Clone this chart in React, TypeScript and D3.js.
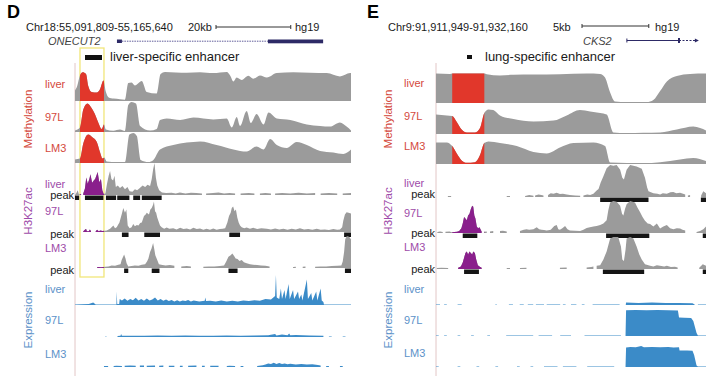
import React from "react";
import * as d3 from "d3";

type P = [number, number] | null;

// ---------- Panel D (Chr18:55,091,809-55,165,640), positions = % of window ----------
const dSpanKb = 73.831;
const dHighlight = [1.8, 10.5];
const dGene = { start: 15.2, boxEnd: 17.0, exonStart: 69.9, end: 89.9 };

const dMethLiver: P[] = [[0,0.35],[0.8,0.5],[1.8,0.85],[2.8,0.96],[4.0,0.9],[4.8,0.5],[6.0,0.3],[7.9,0.28],[9.1,0.4],[10.3,0.68],[11.2,0.3],[12.2,0.12],[13.9,0.08],[16.3,0.06],[18.1,0.04],[19.3,0.6],[20.5,0.62],[21.7,0.52],[24.2,0.67],[26.0,0.3],[29.6,0.25],[31.0,0.9],[32.6,0.97],[40.5,0.94],[45.3,0.96],[50.1,0.93],[55.0,0.97],[56.2,0.85],[57.4,0.65],[58.6,0.78],[60.4,0.7],[62.8,0.84],[64.6,0.74],[67.0,0.85],[69.5,0.78],[73.1,0.93],[79.1,0.96],[85.2,0.94],[91.2,0.93],[96.0,0.82],[99.7,0.93],[100,0.93]];
const dMeth97L: P[] = [[0,0.05],[1.8,0.15],[3.0,0.75],[4.5,0.95],[6.0,0.8],[7.2,0.6],[8.5,0.3],[9.7,0.1],[10.5,0.25],[11.2,0.08],[13.9,0.04],[16.3,0.08],[18.1,0.03],[19.3,0.9],[20.5,1.0],[22.1,0.95],[23.6,0.2],[27.2,0.05],[29.6,0.1],[30.8,0.4],[33.2,0.45],[38.1,0.4],[42.9,0.48],[50.1,0.42],[55.0,0.45],[56.8,0.15],[58.6,0.5],[59.8,0.2],[62.2,0.7],[63.7,0.3],[65.8,0.6],[68.3,0.25],[70.1,0.65],[73.1,0.45],[78.0,0.4],[84.0,0.25],[88.8,0.2],[92.4,0.18],[96.0,0.32],[98.4,0.18],[100,0.05]];
const dMethLM3: P[] = [[0,0.12],[1.8,0.15],[3.0,0.65],[4.8,0.95],[6.4,0.85],[7.9,0.7],[9.1,0.35],[10.0,0.15],[10.6,0.18],[11.5,0.05],[15.1,0.03],[18.1,0.03],[19.7,0.95],[21.1,1.0],[22.4,0.9],[23.8,0.1],[26.6,0.03],[28.4,0.1],[30.8,0.45],[35.6,0.6],[40.5,0.68],[45.3,0.72],[51.3,0.6],[57.4,0.45],[62.2,0.38],[65.8,0.55],[68.3,0.45],[70.7,0.8],[73.1,0.6],[76.7,0.5],[80.3,0.7],[84.0,0.6],[88.8,0.4],[93.6,0.35],[97.2,0.3],[100,0.45]];

const dAcLiver: P[] = [[0,0],[0.5,0.06],[1,0.15],[1.4,0.02],[2.2,0.03],null,[3,0.05],[3.6,0.2],[4.1,0.55],[4.6,0.35],[5.2,0.5],[5.6,0.65],[6.2,0.38],[6.8,0.45],[7.3,0.5],[7.8,0.62],[8.2,0.72],[8.8,0.4],[9.4,0.5],[9.9,0.15],[10.4,0.03],[11,0.05],[11.6,0.35],[12.2,0.6],[12.7,0.75],[13.2,0.5],[13.8,0.45],[14.3,0.6],[14.8,0.25],[15.5,0.3],[16.3,0.22],[17.2,0.28],[18.1,0.18],[19,0.25],[19.8,0.12],[20.8,0.1],[21.7,0.18],[22.5,0.15],[23.5,0.22],[24.5,0.3],[25.4,0.25],[26.3,0.32],[27.2,0.28],[27.8,0.5],[28.3,0.8],[28.8,1.0],[29.3,0.55],[29.8,0.3],[30.5,0.15],[31.5,0.08],[33,0.06],[35,0.07],[36.5,0.05],[38,0.08],[40,0.05],[42,0.07],[44,0.06],[46,0.05],null,[47.5,0.05],[50,0.06],[52,0.08],[54,0.05],[56,0.06],[58,0.05],null,[60,0.05],[63,0.06],[65,0.05],null,[67,0.05],[69,0.06],[71,0.05],null,[72.5,0.05],[75,0.06],[78,0.05],[81,0.07],[84,0.05],[87,0.06],null,[89,0.05],[92,0.06],[95,0.05],null,[97,0.05],[100,0.06]];
const dAc97L: P[] = [[3,0.02],[4,0.1],[4.3,0.02],[5,0.02],[5.4,0.08],[5.8,0.02],null,[7.5,0.02],[8,0.07],[8.6,0.02],[9.2,0.05],[10,0.03],[11.5,0.05],[12.7,0.1],[13.9,0.2],[14.5,0.12],[15.1,0.15],[16.1,0.3],[16.9,0.55],[17.5,0.75],[18.1,0.6],[18.6,0.7],[19.1,0.2],[19.8,0.12],[20.5,0.15],[21.1,0.25],[21.7,0.18],[22.4,0.22],[23,0.2],[23.6,0.28],[24.2,0.3],[25,0.5],[25.6,0.55],[26,0.6],[26.8,0.55],[27.3,0.7],[27.8,0.75],[28.3,0.85],[28.6,0.95],[29,0.65],[29.4,0.6],[29.8,0.45],[30.2,0.35],[30.8,0.2],[31.4,0.15],[32.3,0.1],[33.2,0.14],[34.2,0.1],[35.6,0.12],[36.8,0.08],[38.1,0.13],[39.3,0.09],[40.5,0.11],[41.7,0.08],[42.9,0.13],[44.1,0.09],[45.3,0.11],[46.5,0.07],[47.7,0.1],[48.9,0.07],[50.1,0.11],[51.3,0.07],[52.5,0.09],[53.5,0.1],[54.4,0.12],[55.2,0.3],[55.8,0.5],[56.4,0.6],[56.8,0.75],[57.3,0.8],[57.8,0.65],[58.3,0.7],[58.8,0.45],[59.3,0.3],[59.8,0.2],[60.4,0.15],[61.3,0.12],[62.2,0.14],[63.4,0.1],[64.6,0.13],[66,0.09],[67.5,0.12],[69.5,0.1],[71,0.08],[72.5,0.11],[74,0.08],[75.5,0.1],[77,0.07],[78.5,0.1],[80,0.08],[81.5,0.12],[83,0.08],[84.5,0.09],[86,0.07],[87.6,0.1],[89,0.07],[90.5,0.08],[92,0.06],[93.6,0.09],[95,0.07],[96,0.08],[96.8,0.15],[97.2,0.35],[97.8,0.55],[98.4,0.62],[99.1,0.6],[100,0.58]];
const dAcLM3: P[] = [[8,0.02],[8.6,0.03],[9.4,0.02],[10.2,0.03],[11,0.04],[12.1,0.05],[13.3,0.08],[14.5,0.07],[15.7,0.1],[16.5,0.12],[16.9,0.25],[17.8,0.42],[18.3,0.3],[18.7,0.15],[19.3,0.05],[20.5,0.06],[21.7,0.08],[23,0.07],[24.2,0.1],[25.4,0.12],[26.1,0.2],[26.6,0.3],[27.2,0.5],[27.7,0.6],[28.3,0.78],[28.7,0.6],[29.1,0.4],[29.8,0.25],[30.4,0.12],[31.2,0.1],[32.8,0.08],[34.4,0.09],[36,0.07],null,[38.5,0.05],[40.5,0.06],[42,0.05],null,[46.5,0.04],[48.5,0.05],[50.5,0.05],[52.5,0.06],[54,0.08],[54.8,0.2],[55.6,0.35],[56.4,0.4],[57,0.45],[57.6,0.38],[58.2,0.3],[58.9,0.28],[59.6,0.22],[60.4,0.25],[61.2,0.18],[62.2,0.15],[63.4,0.12],[64.6,0.1],[66,0.09],[67.4,0.08],[69,0.07],[70.5,0.05],null,[79,0.03],[80,0.04],null,[82.5,0.04],[83.5,0.05],null,[87,0.04],[89,0.05],[91,0.05],[93,0.06],[95,0.07],[96.5,0.08],[97,0.2],[97.5,0.5],[97.9,0.9],[98.5,1.0],[99.3,0.98],[100,0.9]];

const dPeaksLiver = [[0,1.5],[3.6,10.3],[11.2,14.9],[15.3,19.7],[21.1,23.6],[24.2,31.4]];
const dPeaks97L = [[17.0,19.4],[25.1,30.8],[55.9,59.8],[97.5,100]];
const dPeaksLM3 = [[17.8,19.3],[27.8,30.6],[55.6,58.9],[97.8,100]];

const dExpLiver: P[] = [[0,0.02],[5,0.03],[6.6,0.08],[7.5,0.02],[14,0.02],[15.0,0.02],[15.1,0.45],[15.3,0.03],[16.0,0.03],[16.2,0.2],[17,0.15],[18,0.22],[19,0.14],[20,0.2],[21,0.16],[22,0.24],[23,0.15],[24,0.2],[25,0.14],[26,0.22],[27,0.15],[28,0.18],[29,0.25],[30,0.15],[31,0.2],[32,0.14],[33,0.18],[34,0.13],[35,0.17],[36,0.12],[37,0.16],[38,0.12],[39,0.15],[40,0.13],[41,0.17],[42,0.12],[43,0.15],[45,0.12],[47,0.14],[47.2,0.25],[47.5,0.13],[49,0.14],[51,0.12],[53,0.15],[55,0.12],[57,0.14],[59,0.12],[61,0.15],[63,0.13],[65,0.16],[67,0.14],[69,0.2],[71,0.18],[72.5,0.3],[72.8,1.0],[73.1,0.25],[74,0.2],[74.6,0.55],[75,0.2],[75.9,0.5],[76.3,0.2],[77.4,0.7],[77.8,0.2],[79,0.5],[79.4,0.2],[80.8,0.45],[81.2,0.2],[82,0.35],[82.4,0.15],[84,0.85],[84.4,0.2],[85.6,0.4],[86,0.15],[87.4,0.45],[87.8,0.15],[89,0.55],[89.4,0.15],[90,0.1],[90.2,0.02],[100,0.02]];
const dExp97L: P[] = [[11,0.02],[11.4,0.02],null,[15.4,0.03],[16.5,0.04],[16.7,0.1],[17,0.04],[25,0.04],[30,0.05],[35,0.04],[40,0.05],[45,0.04],[50,0.04],[55,0.05],[60,0.04],[65,0.05],[70,0.06],[72.5,0.1],[73,0.05],[75,0.08],[77,0.06],[77.6,0.12],[78,0.06],[80,0.07],[85,0.05],[90,0.04],null,[92,0.02],[93,0.02],null,[97,0.02],[98,0.02]];
const dExpLM3: P[] = [[10.5,0.03],[12,0.03],null,[14,0.03],[15,0.04],[17,0.03],null,[18,0.04],[20,0.05],[22,0.04],null,[23.5,0.05],[25,0.05],null,[26,0.04],[29,0.05],null,[30.5,0.04],[32,0.05],null,[34,0.04],[36,0.04],null,[38,0.04],[39,0.04],null,[41,0.04],[44,0.05],null,[46,0.04],[47,0.04],null,[49,0.04],[52,0.04],null,[55,0.03],[56,0.04],[58,0.03],null,[60,0.03],[61,0.03],null,[66,0.03],[68,0.06],[69,0.08],[70,0.12],[71,0.1],[72,0.14],[73,0.1],[74,0.13],[75,0.1],[76,0.12],[77,0.09],[78,0.11],[80,0.08],[82,0.1],[84,0.08],[86,0.09],[88,0.07],[89,0.05],null,[91,0.03],[92,0.03],null,[96,0.03],[97,0.03]];

// ---------- Panel E (Chr9:91,911,949-91,932,160) ----------
const eSpanKb = 20.211;
const eHighlight = [6.0, 17.9];
const eGene = { start: 70.7, tick: 90.0, end: 97.0 };

const eMethLiver: P[] = [[0,0.98],[5.2,0.97],[6.0,0.98],[12,0.98],[17.9,0.98],[18.8,0.96],[23.7,0.92],[28.7,0.94],[36.1,0.95],[45.9,0.96],[55.8,0.98],[60.8,0.97],[62.6,0.85],[64.5,0.35],[66.3,0.05],[70.6,0.03],[78.1,0.03],[80.5,0.1],[83.0,0.4],[85.5,0.72],[89.2,0.9],[94.1,0.97],[100,0.98]];
const eMeth97L: P[] = [[0,0.65],[4.0,0.62],[6.0,0.6],[7.7,0.4],[9.5,0.15],[11.4,0.05],[14.4,0.05],[16.3,0.2],[17.9,0.7],[19.4,0.82],[21.2,0.8],[23.7,0.62],[28.7,0.5],[36.1,0.42],[43.5,0.45],[48.4,0.62],[53.3,0.8],[57.1,0.75],[60.8,0.7],[63.2,0.65],[65.7,0.05],[70.6,0.03],[76.8,0.04],[83.0,0.05],[89.2,0.15],[95.3,0.25],[97.8,0.2],[100,0.12]];
const eMethLM3: P[] = [[0,0.72],[4.0,0.72],[6.0,0.6],[7.7,0.35],[9.5,0.12],[11.4,0.04],[14.4,0.06],[16.3,0.3],[17.9,0.7],[19.4,0.75],[23.7,0.7],[29.9,0.6],[36.1,0.4],[41.0,0.35],[45.9,0.55],[50.9,0.7],[58.3,0.72],[62.6,0.6],[64.5,0.05],[76.8,0.03],[83.0,0.06],[90.4,0.15],[95.3,0.2],[100,0.1]];

const eAcLiver: P[] = [[4.4,0.03],[5.6,0.03],null,[26.2,0.03],[27.4,0.03],null,[33,0.03],[34.5,0.06],[36.1,0.04],null,[36.7,0.05],[38,0.08],[39,0.06],[39.8,0.05],null,[41.5,0.06],[42.5,0.12],[43.5,0.1],[44.7,0.13],[45.9,0.09],[47,0.1],[48.4,0.08],[49.6,0.06],[51.5,0.05],[53.4,0.04],null,[54.6,0.05],[56,0.08],[57.1,0.06],[58.3,0.1],[59.5,0.2],[60.2,0.25],[61,0.45],[62,0.65],[63.2,0.9],[64.5,1.0],[65.7,0.98],[66.9,1.0],[68.2,0.85],[69,0.6],[69.6,0.55],[70.6,0.85],[71.9,1.0],[73.1,0.98],[74.3,0.95],[76.2,0.88],[77.4,0.6],[78.2,0.3],[78.7,0.18],[80.5,0.12],[82,0.1],[83,0.08],[84,0.12],[85.5,0.1],[86.8,0.15],[87.9,0.16],[89,0.12],[90.4,0.13],[91.5,0.1],[92.3,0.08],null,[93.3,0.05],[94.1,0.06],null,[98.2,0.05],[99,0.18],[100,0.12]];
const eAc97L: P[] = [[0.5,0.03],[1.5,0.05],[2.5,0.03],null,[3.5,0.04],[5,0.05],[5.8,0.02],[6.8,0.03],[7.8,0.04],[8.6,0.06],[9.4,0.15],[9.9,0.3],[10.4,0.5],[10.9,0.45],[11.4,0.4],[11.9,0.55],[12.4,0.6],[12.9,0.75],[13.4,0.85],[13.8,0.82],[14.2,0.55],[14.6,0.45],[15.1,0.2],[15.6,0.15],[16.1,0.18],[16.9,0.05],null,[17.8,0.04],[18.8,0.05],null,[20,0.05],[21.2,0.06],null,[23.7,0.06],[24.8,0.07],[26.2,0.05],null,[31.1,0.06],[32.5,0.1],[33.5,0.12],[34.5,0.1],[36.1,0.12],[37.3,0.18],[38.2,0.12],[39.1,0.1],[40,0.09],[41,0.08],[42.5,0.1],[43.8,0.22],[44.7,0.25],[45.3,0.12],[45.9,0.1],[46.8,0.15],[47.8,0.22],[48.7,0.12],[49.6,0.08],[51.5,0.07],[53.4,0.06],[54.6,0.1],[55.8,0.16],[57,0.18],[58.3,0.2],[59.5,0.22],[60.8,0.25],[62,0.3],[63.2,0.4],[63.8,0.7],[64.5,0.95],[65.7,1.0],[66.9,0.98],[68.2,0.85],[68.9,0.6],[69.4,0.55],[70,0.75],[70.6,0.9],[71.9,1.0],[73.7,0.95],[74.6,0.8],[75.6,0.65],[76.5,0.5],[77.4,0.38],[78.4,0.3],[79.3,0.28],[80.5,0.2],[81.8,0.3],[82.4,0.22],[83,0.14],[84.2,0.2],[85.5,0.25],[86.7,0.15],[87.9,0.12],[89.2,0.15],[90.4,0.14],[91.3,0.1],[92.3,0.08],null,[96.5,0.03],[97.8,0.06],[99,0.12],[100,0.2]];
const eAcLM3: P[] = [[0.3,0.03],[2,0.04],[4.5,0.03],null,[8.2,0.04],[9.2,0.08],[9.9,0.2],[10.4,0.35],[10.9,0.5],[11.4,0.55],[11.9,0.45],[12.4,0.55],[12.9,0.5],[13.4,0.45],[13.8,0.55],[14.4,0.5],[14.9,0.3],[15.5,0.12],[16.1,0.08],[16.9,0.04],null,[26.2,0.03],[27.4,0.03],null,[31.1,0.03],[33.5,0.04],null,[45.9,0.04],[48.4,0.05],null,[55.8,0.05],[57.5,0.06],[58.3,0.08],null,[59.5,0.1],[60.8,0.12],[62,0.3],[63.2,0.55],[64,0.8],[64.5,0.95],[65.7,1.0],[67.5,1.0],[68.5,0.7],[69,0.3],[69.6,0.25],[70.2,0.6],[70.6,0.95],[71.9,1.0],[73.1,0.95],[74.3,0.7],[75.3,0.45],[76.2,0.3],[77.4,0.15],[79.3,0.1],[80.5,0.08],[81.8,0.12],[83.5,0.09],[84.5,0.08],[85.5,0.1],[87,0.06],[88.5,0.07],[89.5,0.05],null,[97.5,0.04],[98.8,0.15],[100,0.1]];

const ePeaksLiver = [[60.8,78.7],[98.1,100]];
const ePeaks97L = [[9.9,15.3],[63.0,79.0],[98.8,100]];
const ePeaksLM3 = [[10.4,15.9],[61.8,77.1],[98.8,100]];

const eExpLiver: P[] = [[0,0.02],[1.5,0.02],null,[3,0.02],[4,0.02],null,[8,0.02],[9.5,0.02],null,[22,0.02],[22.5,0.02],null,[27,0.02],[28.5,0.02],null,[31,0.02],[32.5,0.02],null,[34,0.02],[36,0.02],null,[37,0.02],[40,0.02],null,[41,0.02],[46,0.02],null,[47,0.02],[48,0.02],null,[50,0.02],[52,0.02],null,[54,0.02],[55,0.02],null,[58,0.02],[60,0.02],[64,0.02],[68,0.02],null,[70.3,0.02],[70.4,0.08],[75,0.07],[80,0.08],[85,0.07],[90,0.07],[95,0.06],[95.8,0.02],null,[97,0.02],[100,0.02]];
const eExp97L: P[] = [[0,0.02],[1,0.02],null,[3,0.02],[4,0.02],null,[8,0.02],[9,0.02],null,[13,0.02],[14,0.02],null,[19,0.02],[20,0.02],null,[26,0.02],[36,0.02],null,[38,0.02],[43,0.02],null,[46,0.02],[50,0.02],null,[55,0.02],[68.5,0.02],null,[70.2,0.02],[70.4,0.86],[74,0.87],[78,0.86],[82,0.87],[86,0.86],[89.6,0.85],[90.0,0.62],[92,0.61],[94.5,0.6],[95.3,0.5],[96.5,0.1],[97,0.02],[100,0.02]];
const eExpLM3: P[] = [[0,0.02],[1,0.02],null,[8,0.02],[9,0.02],null,[15,0.02],[16,0.02],null,[22,0.02],[23,0.02],null,[30,0.02],[31,0.02],null,[35,0.02],[36,0.02],null,[40,0.02],[45,0.02],null,[47,0.02],[52,0.02],null,[56,0.02],[66,0.02],null,[70.2,0.02],[70.4,0.65],[72,0.67],[74,0.66],[76,0.7],[77,0.66],[80,0.67],[83,0.66],[86,0.67],[88,0.65],[90,0.66],[90.2,0.55],[93,0.55],[95,0.54],[95.6,0.4],[96.5,0.05],[97,0.02],[100,0.02]];

const sampleNames = ["liver", "97L", "LM3"];

// ---------- styling ----------
const FONT = "'Liberation Sans', Arial, Helvetica, sans-serif";
const COL = {
  gray: "#9b9b9b", red: "#e1372b", purple: "#8a1f8c", blue: "#3b8bc8",
  methLab: "#d4493d", acLab: "#9e4ba9", expLab: "#5c92c9",
  yellow: "#f1e67a", axis: "#e2c6c6", gene: "#2d2a66",
};

type Panel = {
  id: string; letter: string; coord: string; x0: number; x1: number;
  labelX: number; rotX: number; hl: number[];
  meth: P[][]; ac: P[][]; exp: P[][]; peaks: number[][][];
  methBase: number[]; acBase: number[]; expBase: number[];
  methLab: number[]; acLab: number[]; peakLab: number[]; expLab: number[];
};

const panels: Panel[] = [
  { id: "D", letter: "D", coord: "Chr18:55,091,809-55,165,640", x0: 75, x1: 351, labelX: 45, rotX: 32, hl: dHighlight,
    meth: [dMethLiver, dMeth97L, dMethLM3], ac: [dAcLiver, dAc97L, dAcLM3], exp: [dExpLiver, dExp97L, dExpLM3],
    peaks: [dPeaksLiver, dPeaks97L, dPeaksLM3],
    methBase: [101, 132, 163], acBase: [195, 232, 268], expBase: [305, 337, 367],
    methLab: [88, 121, 152], acLab: [188, 215, 252], peakLab: [199, 238, 274], expLab: [293, 324, 358] },
  { id: "E", letter: "E", coord: "Chr9:91,911,949-91,932,160", x0: 436, x1: 706, labelX: 404, rotX: 392, hl: eHighlight,
    meth: [eMethLiver, eMeth97L, eMethLM3], ac: [eAcLiver, eAc97L, eAcLM3], exp: [eExpLiver, eExp97L, eExpLM3],
    peaks: [ePeaksLiver, ePeaks97L, ePeaksLM3],
    methBase: [103, 134, 164], acBase: [197, 233, 269], expBase: [305, 336, 367],
    methLab: [87, 120, 150], acLab: [187, 217, 251], peakLab: [198, 237, 273], expLab: [293, 324, 357] },
];

function Area({ data, x, base, h, fill, curve, clip }: any) {
  const gen = d3.area<P>()
    .defined((d) => d !== null)
    .x((d) => x(d![0]))
    .y0(base)
    .y1((d) => base - d![1] * h)
    .curve(curve);
  return <path d={gen(data) || ""} fill={fill} clipPath={clip ? `url(#${clip})` : undefined} />;
}

function PanelView({ p }: { p: Panel }) {
  const x = d3.scaleLinear().domain([0, 100]).range([p.x0, p.x1]);
  const hx0 = x(p.hl[0]);
  const hx1 = x(p.hl[1]);
  const clipId = `hl-${p.id}`;
  const txt = { fontFamily: FONT };
  return (
    <g>
      <defs>
        <clipPath id={clipId}><rect x={hx0} y={0} width={hx1 - hx0} height={376} /></clipPath>
      </defs>
      <line x1={p.x0} x2={p.x0} y1={63} y2={376} stroke={COL.axis} strokeWidth={1} />
      {p.meth.map((d, i) => (
        <g key={"m" + i}>
          <Area data={d} x={x} base={p.methBase[i]} h={30} fill={COL.gray} curve={d3.curveMonotoneX} />
          <Area data={d} x={x} base={p.methBase[i]} h={30} fill={COL.red} curve={d3.curveMonotoneX} clip={clipId} />
          <text x={p.labelX} y={p.methLab[i]} fontSize={11} fill={COL.methLab} style={txt}>{sampleNames[i]}</text>
        </g>
      ))}
      {p.ac.map((d, i) => (
        <g key={"a" + i}>
          <Area data={d} x={x} base={p.acBase[i]} h={32} fill={COL.gray} curve={d3.curveLinear} />
          <Area data={d} x={x} base={p.acBase[i]} h={32} fill={COL.purple} curve={d3.curveLinear} clip={clipId} />
          {p.peaks[i].map((pk, j) => (
            <rect key={j} x={x(pk[0])} y={p.acBase[i] + 0.5} width={x(pk[1]) - x(pk[0])} height={4.5} fill="#151515" />
          ))}
          <text x={p.labelX} y={p.acLab[i]} fontSize={11} fill={COL.acLab} style={txt}>{sampleNames[i]}</text>
          <text x={p.x0 - 1} y={p.peakLab[i]} fontSize={11} fill="#1a1a1a" textAnchor="end" style={txt}>peak</text>
        </g>
      ))}
      {p.exp.map((d, i) => (
        <g key={"e" + i}>
          <Area data={d} x={x} base={p.expBase[i]} h={30} fill={COL.blue} curve={d3.curveLinear} />
          <text x={p.labelX} y={p.expLab[i]} fontSize={11} fill={COL.expLab} style={txt}>{sampleNames[i]}</text>
        </g>
      ))}
      <text transform={`translate(${p.rotX},${119}) rotate(-90)`} textAnchor="middle" fontSize={11.5} fill={COL.methLab} style={txt}>Methylation</text>
      <text transform={`translate(${p.rotX},${211}) rotate(-90)`} textAnchor="middle" fontSize={11.5} fill={COL.acLab} style={txt}>H3K27ac</text>
      <text transform={`translate(${p.rotX},${320}) rotate(-90)`} textAnchor="middle" fontSize={11.5} fill={COL.expLab} style={txt}>Expression</text>
    </g>
  );
}

export default function App() {
  const pD = panels[0];
  const pE = panels[1];
  const xD = d3.scaleLinear().domain([0, 100]).range([pD.x0, pD.x1]);
  const xE = d3.scaleLinear().domain([0, 100]).range([pE.x0, pE.x1]);
  const kbD = d3.scaleLinear().domain([0, dSpanKb]).range([0, pD.x1 - pD.x0]);
  const kbE = d3.scaleLinear().domain([0, eSpanKb]).range([0, pE.x1 - pE.x0]);
  const txt = { fontFamily: FONT };
  const sbD0 = 216, sbD1 = 216 + kbD(20);
  const sbE0 = 582, sbE1 = 582 + kbE(5);
  return (
    <svg width={720} height={376} style={{ position: "absolute", left: 0, top: 0, background: "#fff" }}>
      <rect width={720} height={376} fill="#fff" />
      {/* Panel D header */}
      <text x={7} y={18} fontSize={18} fontWeight="bold" style={txt}>D</text>
      <text x={26} y={31} fontSize={11} fill="#1a1a1a" style={txt}>{pD.coord}</text>
      <text x={188} y={31} fontSize={11} fill="#1a1a1a" style={txt}>20kb</text>
      <line x1={sbD0} x2={sbD1} y1={27} y2={27} stroke="#333" strokeWidth={1} />
      <line x1={sbD0} x2={sbD0} y1={25} y2={29} stroke="#333" />
      <line x1={sbD1} x2={sbD1} y1={25} y2={29} stroke="#333" />
      <text x={295} y={31} fontSize={11} fill="#1a1a1a" style={txt}>hg19</text>
      <text x={48} y={45} fontSize={11} fontStyle="italic" fill="#444" style={txt}>ONECUT2</text>
      <rect x={xD(dGene.start)} y={39.5} width={xD(dGene.boxEnd) - xD(dGene.start)} height={3.5} fill={COL.gene} />
      <line x1={xD(dGene.boxEnd)} x2={xD(dGene.exonStart)} y1={41.2} y2={41.2} stroke="#5d5a98" strokeWidth={1} strokeDasharray="1.5,1" />
      <rect x={xD(dGene.exonStart)} y={39.5} width={xD(dGene.end) - xD(dGene.exonStart)} height={3.8} fill={COL.gene} />
      <rect x={xD(dHighlight[0])} y={48} width={xD(dHighlight[1]) - xD(dHighlight[0])} height={229} fill="none" stroke={COL.yellow} strokeWidth={1.3} />
      <rect x={85} y={55} width={17} height={5} fill="#111" />
      <text x={110} y={61} fontSize={13} fill="#1a1a1a" style={txt}>liver-specific enhancer</text>

      {/* Panel E header */}
      <text x={367} y={18} fontSize={18} fontWeight="bold" style={txt}>E</text>
      <text x={388} y={31} fontSize={11} fill="#1a1a1a" style={txt}>{pE.coord}</text>
      <text x={553} y={31} fontSize={11} fill="#1a1a1a" style={txt}>5kb</text>
      <line x1={sbE0} x2={sbE1} y1={26} y2={26} stroke="#333" strokeWidth={1} />
      <line x1={sbE0} x2={sbE0} y1={24} y2={28} stroke="#333" />
      <line x1={sbE1} x2={sbE1} y1={24} y2={28} stroke="#333" />
      <text x={655} y={31} fontSize={11} fill="#1a1a1a" style={txt}>hg19</text>
      <text x={583} y={45} fontSize={11} fontStyle="italic" fill="#444" style={txt}>CKS2</text>
      <line x1={xE(eGene.start)} x2={xE(eGene.tick)} y1={40.5} y2={40.5} stroke={COL.gene} strokeWidth={1} />
      <line x1={xE(eGene.tick)} x2={xE(eGene.end)} y1={40.5} y2={40.5} stroke={COL.gene} strokeWidth={1} strokeDasharray="2,1.5" />
      <line x1={xE(eGene.start)} x2={xE(eGene.start)} y1={38.5} y2={42.5} stroke={COL.gene} strokeWidth={1} />
      <rect x={xE(eGene.tick) - 1} y={38} width={2} height={5} fill={COL.gene} />
      <path d={`M${xE(eGene.end) - 3},38.5 L${xE(eGene.end) + 1},40.5 L${xE(eGene.end) - 3},42.5 Z`} fill={COL.gene} />
      <rect x={467} y={55} width={5} height={4} fill="#111" />
      <text x={485} y={61} fontSize={13} fill="#1a1a1a" style={txt}>lung-specific enhancer</text>

      <PanelView p={pD} />
      <PanelView p={pE} />
    </svg>
  );
}
